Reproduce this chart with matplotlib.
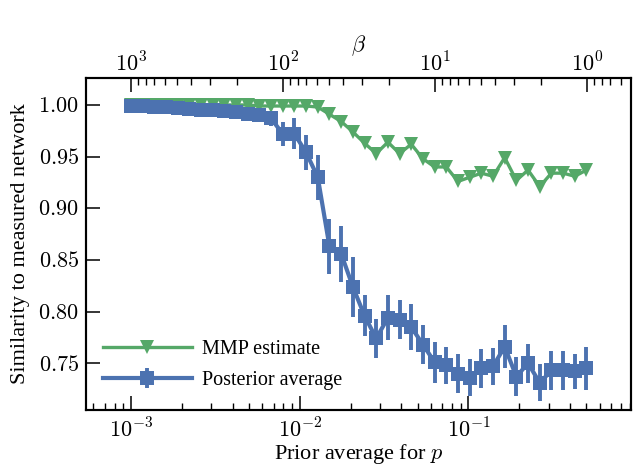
import numpy as np
import matplotlib
matplotlib.use("Agg")
import matplotlib.pyplot as plt
from matplotlib.ticker import FuncFormatter, NullFormatter, NullLocator, FixedLocator

plt.rcParams["font.family"] = ["Liberation Serif", "DejaVu Serif"]
plt.rcParams["mathtext.fontset"] = "cm"

# prior average for p (x positions of the points)
prior_p = [0.001000, 0.001173, 0.001375, 0.001612, 0.001891, 0.002218, 0.002601,
           0.003050, 0.003577, 0.004195, 0.004920, 0.005770, 0.006766, 0.007935,
           0.009309, 0.01092, 0.01280, 0.01501, 0.01761, 0.02065, 0.02422,
           0.02840, 0.03331, 0.03906, 0.04581, 0.05372, 0.06300, 0.07388,
           0.08665, 0.1016, 0.1192, 0.1398, 0.1639, 0.1922, 0.2254, 0.2643,
           0.3099, 0.3635, 0.4264, 0.5000]

mmp = [1.000, 1.000, 1.000, 1.000, 1.000, 1.000, 1.000, 1.000, 1.000, 1.000,
       1.000, 0.999, 0.999, 0.999, 0.999, 0.999, 0.998, 0.991, 0.984, 0.974,
       0.963, 0.953, 0.964, 0.953, 0.962, 0.948, 0.940, 0.940, 0.926, 0.930,
       0.934, 0.931, 0.949, 0.927, 0.937, 0.921, 0.934, 0.934, 0.931, 0.937]

posterior = [0.999, 0.999, 0.998, 0.998, 0.997, 0.996, 0.995, 0.995, 0.994, 0.993,
             0.991, 0.990, 0.987, 0.972, 0.972, 0.954, 0.930, 0.863, 0.856, 0.824,
             0.796, 0.774, 0.794, 0.792, 0.785, 0.768, 0.751, 0.748, 0.740, 0.736,
             0.745, 0.747, 0.766, 0.737, 0.750, 0.731, 0.743, 0.743, 0.742, 0.745]

posterior_err = [0.003, 0.003, 0.003, 0.003, 0.003, 0.003, 0.003, 0.003, 0.003, 0.003,
                 0.004, 0.005, 0.007, 0.012, 0.015, 0.017, 0.022, 0.027, 0.027, 0.029,
                 0.020, 0.019, 0.022, 0.019, 0.022, 0.019, 0.020, 0.018, 0.019, 0.018,
                 0.019, 0.018, 0.021, 0.019, 0.019, 0.018, 0.019, 0.019, 0.017, 0.021]

yticks = [0.75, 0.80, 0.85, 0.90, 0.95, 1.00]

blue = "#4c72b0"
green = "#55a868"


def p_to_beta(p):
    # the beta axis on top runs linearly in log p, 10^3 at p=10^-3 and 10^0 at p~0.5
    return 10 ** (3 - 1.1104 * (np.log10(p) + 3))


def pow10(v, pos):
    return r"$10^{%d}$" % round(np.log10(v))


fig = plt.figure(figsize=(6.4, 4.72), dpi=100)
ax = fig.add_axes([86 / 640, 1 - 410 / 472, 545 / 640, 332.5 / 472])

ax.plot(prior_p, mmp, "v-", color=green, lw=2.4, ms=10.5, mew=0, label="MMP estimate")
ax.errorbar(prior_p, posterior, yerr=posterior_err, fmt="s-", color=blue, lw=3.0,
            ms=10.5, mew=0, elinewidth=2.8, capsize=0, label="Posterior average")

xmin, xmax = 5.42e-4, 0.918
ax.set_xscale("log")
ax.set_xlim(xmin, xmax)
ax.set_ylim(0.7047, 1.0266)

ax.yaxis.set_major_locator(FixedLocator(yticks))
ax.yaxis.set_major_formatter(FuncFormatter(lambda v, pos: r"$%.2f$" % v))
ax.yaxis.set_minor_locator(NullLocator())
ax.xaxis.set_major_formatter(FuncFormatter(pow10))
ax.xaxis.set_minor_formatter(NullFormatter())

ax.tick_params(which="both", direction="in", top=False, right=False, labelsize=16)
ax.tick_params(which="major", length=10, width=1.1)
ax.tick_params(which="minor", length=5, width=1.0)
ax.tick_params(axis="x", pad=6)
ax.tick_params(axis="y", pad=5)
for s in ax.spines.values():
    s.set_linewidth(1.5)

ax.set_xlabel(r"Prior average for $p$", fontsize=16, labelpad=0)
ax.set_ylabel("Similarity to measured network", fontsize=16, labelpad=6)

# top axis: beta
ax2 = ax.twiny()
ax2.set_xscale("log")
ax2.set_xlim(p_to_beta(xmin), p_to_beta(xmax))
ax2.xaxis.set_major_formatter(FuncFormatter(pow10))
ax2.xaxis.set_minor_formatter(NullFormatter())
ax2.tick_params(which="both", direction="in", labelsize=16, pad=1)
ax2.tick_params(which="major", length=10, width=1.1)
ax2.tick_params(which="minor", length=5, width=1.0)
for s in ax2.spines.values():
    s.set_linewidth(1.5)
ax2.set_xlabel(r"$\beta$", fontsize=16, labelpad=1)

ax.legend(loc="lower left", bbox_to_anchor=(0.031, 0.06), frameon=False, fontsize=14.5,
          handlelength=4.4, numpoints=1, handletextpad=0.5, labelspacing=0.6,
          borderpad=0, borderaxespad=0)

fig.savefig("out.png", dpi=100)
